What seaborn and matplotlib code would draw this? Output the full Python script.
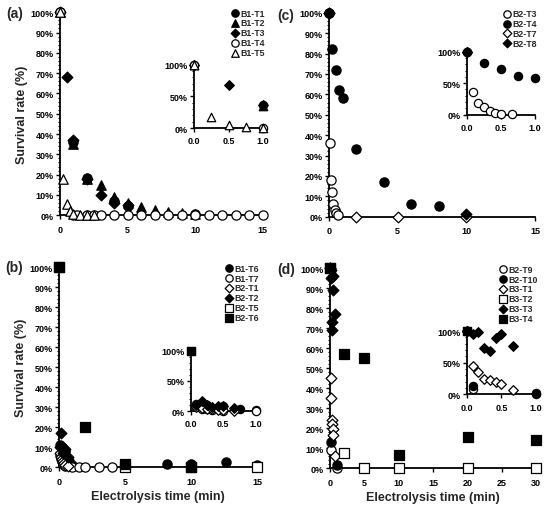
import numpy as np
import matplotlib
matplotlib.use("Agg")
import matplotlib.pyplot as plt
from matplotlib.ticker import PercentFormatter, MultipleLocator, FormatStrFormatter
import seaborn as sns

# ---- data (survival rate in %, time in min) ----
# panel (a)
b1_t1_x = [0, 1, 2, 4, 5, 10]
b1_t1_y = [100, 36, 18.5, 7, 4.5, 0.5]
b1_t2_x = [0, 1, 2, 3, 4, 5, 6, 7, 8, 9, 10]
b1_t2_y = [100, 35, 18, 15, 9, 6, 4, 2.5, 1.5, 1, 0.8]
b1_t3_x = [0, 0.5, 1, 2, 3, 4, 5]
b1_t3_y = [100, 68, 37, 18, 10, 6, 5]
b1_t4_x = [0, 1, 1.25, 2, 2.5, 3, 4, 5, 6, 7, 8, 9, 10, 11, 12, 13, 14, 15]
b1_t4_y = [100, 0, 0, 0, 0, 0, 0, 0, 0, 0, 0, 0, 0, 0, 0, 0, 0, 0]
b1_t5_x = [0, 0.25, 0.5, 0.75, 1, 1.5, 2, 2.5]
b1_t5_y = [100, 18, 5.5, 2, 0.5, 0, 0, 0]

# panel (b)
b1_t6_x = [0.083, 0.25, 0.5, 0.75, 1, 8.2, 10, 12.6, 15]
b1_t6_y = [11, 10, 8, 3, 1, 1.6, 1.5, 2.8, 1.2]
b1_t7_x = [0.083, 0.167, 0.25, 0.333, 0.5, 1, 1.5, 2, 3, 4]
b1_t7_y = [6, 4, 3, 1.5, 0.5, 0, 0, 0, 0, 0]
b2_t1_x = [0.083, 0.167, 0.25, 0.333, 0.417, 0.5, 0.667]
b2_t1_y = [7, 5, 4, 3, 2, 1, 0.5]
b2_t2_x = [0.083, 0.167, 0.25, 0.333, 0.417, 0.5, 0.667]
b2_t2_y = [10, 17, 10, 7, 8, 9, 5]
b2_t5_x = [0, 5, 10, 15]
b2_t5_y = [100, 0, 0, 0]
b2_t6_x = [0, 2, 5, 10]
b2_t6_y = [100, 20, 1.5, 0.3]

# panel (c)
b2_t3_x = [0, 0.083, 0.167, 0.25, 0.333, 0.417, 0.5, 0.667]
b2_t3_y = [100, 36, 18, 12, 6.5, 3.5, 1.8, 0.7]
b2_t4_x = [0, 0.25, 0.5, 0.75, 1, 2, 4, 6, 8]
b2_t4_y = [100, 82, 72, 62, 58, 33, 17, 6.5, 5.3]
b2_t7_x = [0, 2, 5, 10]
b2_t7_y = [100, 0, 0, 0]
b2_t8_x = [0, 10]
b2_t8_y = [100, 1.5]

# panel (d)
b2_t9_x = [0, 0.083, 1]
b2_t9_y = [100, 9, 0]
b2_t10_x = [0, 0.083, 1]
b2_t10_y = [100, 13, 1.5]
b3_t1_x = [0, 0.083, 0.167, 0.25, 0.333, 0.417, 0.5, 0.667]
b3_t1_y = [100, 45, 35, 24, 22, 19.5, 16.5, 6]
b3_t2_x = [0, 2, 5, 10, 20, 30]
b3_t2_y = [100, 7.5, 0, 0, 0, 0]
b3_t3_x = [0, 0.083, 0.167, 0.25, 0.333, 0.417, 0.5, 0.667]
b3_t3_y = [100, 95, 99, 73, 69, 89, 96, 77]
b3_t4_x = [0, 2, 5, 10, 20, 30]
b3_t4_y = [100, 57, 55, 6.5, 15.8, 14]

sns.set_style("ticks")
plt.rcParams["font.family"] = ["Liberation Sans", "DejaVu Sans"]
plt.rcParams["font.weight"] = "bold"
plt.rcParams["axes.labelweight"] = "bold"

# (label, x, y, marker, filled)
panels = [
    dict(tag="(a)", xmax=15, xstep=5, ylabel=True, xlabel=False,
         main=[0.109, 0.576, 0.369, 0.398], inset=[0.353, 0.747, 0.125, 0.124],
         tagpos=(0.011, 0.972),
         series=[("B1-T1", b1_t1_x, b1_t1_y, "o", True),
                 ("B1-T2", b1_t2_x, b1_t2_y, "^", True),
                 ("B1-T3", b1_t3_x, b1_t3_y, "D", True),
                 ("B1-T4", b1_t4_x, b1_t4_y, "o", False),
                 ("B1-T5", b1_t5_x, b1_t5_y, "^", False)]),
    dict(tag="(c)", xmax=15, xstep=5, ylabel=False, xlabel=False,
         main=[0.598, 0.573, 0.375, 0.400], inset=[0.849, 0.773, 0.124, 0.124],
         tagpos=(0.505, 0.968),
         series=[("B2-T3", b2_t3_x, b2_t3_y, "o", False),
                 ("B2-T4", b2_t4_x, b2_t4_y, "o", True),
                 ("B2-T7", b2_t7_x, b2_t7_y, "D", False),
                 ("B2-T8", b2_t8_x, b2_t8_y, "D", True)]),
    dict(tag="(b)", xmax=15, xstep=5, ylabel=True, xlabel=True,
         main=[0.107, 0.082, 0.361, 0.392], inset=[0.347, 0.192, 0.118, 0.118],
         tagpos=(0.009, 0.474),
         series=[("B1-T6", b1_t6_x, b1_t6_y, "o", True),
                 ("B1-T7", b1_t7_x, b1_t7_y, "o", False),
                 ("B2-T1", b2_t1_x, b2_t1_y, "D", False),
                 ("B2-T2", b2_t2_x, b2_t2_y, "D", True),
                 ("B2-T5", b2_t5_x, b2_t5_y, "s", False),
                 ("B2-T6", b2_t6_x, b2_t6_y, "s", True)]),
    dict(tag="(d)", xmax=30, xstep=5, ylabel=False, xlabel=True,
         main=[0.600, 0.080, 0.375, 0.392], inset=[0.849, 0.225, 0.125, 0.124],
         tagpos=(0.505, 0.470),
         series=[("B2-T9", b2_t9_x, b2_t9_y, "o", False),
                 ("B2-T10", b2_t10_x, b2_t10_y, "o", True),
                 ("B3-T1", b3_t1_x, b3_t1_y, "D", False),
                 ("B3-T2", b3_t2_x, b3_t2_y, "s", False),
                 ("B3-T3", b3_t3_x, b3_t3_y, "D", True),
                 ("B3-T4", b3_t4_x, b3_t4_y, "s", True)]),
]

marker_size = {"o": 44, "^": 46, "D": 30, "s": 50}


def draw(ax, x, y, marker, filled, label, scale):
    sns.scatterplot(
        x=x, y=y, ax=ax, marker=marker, s=marker_size[marker] * scale,
        color="black" if filled else "white", edgecolor="black",
        linewidth=0.9, label=label, clip_on=False, zorder=3,
        legend=False if label is None else "auto",
    )


def style_axis(ax):
    sns.despine(ax=ax)
    for sp in ["left", "bottom"]:
        ax.spines[sp].set_linewidth(1.3)
        ax.spines[sp].set_color("black")
    ax.tick_params(which="major", length=3, width=1, labelsize=6.5, pad=1.5, colors="black")
    ax.tick_params(which="minor", length=1.8, width=0.8, colors="black")
    ax.set_facecolor("none")


fig = plt.figure(figsize=(5.5, 5.1), dpi=100)

for p in panels:
    ax = fig.add_axes(p["main"])
    for label, x, y, marker, filled in p["series"]:
        draw(ax, x, y, marker, filled, label, 1.0)
    ax.set_xlim(0, p["xmax"])
    ax.set_ylim(0, 100)
    ax.xaxis.set_major_locator(MultipleLocator(p["xstep"]))
    ax.yaxis.set_major_locator(MultipleLocator(10))
    ax.yaxis.set_minor_locator(MultipleLocator(2))
    ax.yaxis.set_major_formatter(PercentFormatter(xmax=100, decimals=0))
    style_axis(ax)
    ax.tick_params(axis="x", pad=4)
    if p["ylabel"]:
        ax.set_ylabel("Survival rate (%)", fontsize=9, labelpad=2)
    if p["xlabel"]:
        ax.set_xlabel("Electrolysis time (min)", fontsize=9, labelpad=3)
    ax.legend(loc="upper right", bbox_to_anchor=(1.03, 1.04), frameon=False,
              fontsize=6.3, handletextpad=0.0, labelspacing=0.1, borderpad=0,
              handlelength=1.2, markerscale=0.8)
    fig.text(p["tagpos"][0], p["tagpos"][1], p["tag"], fontsize=10,
             fontweight="bold", va="center", ha="left")

    # inset: first minute only
    ins = fig.add_axes(p["inset"])
    for label, x, y, marker, filled in p["series"]:
        xa = np.asarray(x, dtype=float)
        ya = np.asarray(y, dtype=float)
        keep = xa <= 1.001
        if keep.any():
            draw(ins, xa[keep], ya[keep], marker, filled, None, 0.8)
    ins.set_xlim(0, 1)
    ins.set_ylim(0, 100)
    ins.xaxis.set_major_locator(MultipleLocator(0.5))
    ins.xaxis.set_major_formatter(FormatStrFormatter("%.1f"))
    ins.yaxis.set_major_locator(MultipleLocator(50))
    ins.yaxis.set_minor_locator(MultipleLocator(10))
    ins.yaxis.set_major_formatter(PercentFormatter(xmax=100, decimals=0))
    style_axis(ins)
    ins.tick_params(axis="x", pad=3)
    ins.set_xlabel("")
    ins.set_ylabel("")

fig.savefig("out.png", dpi=100)
